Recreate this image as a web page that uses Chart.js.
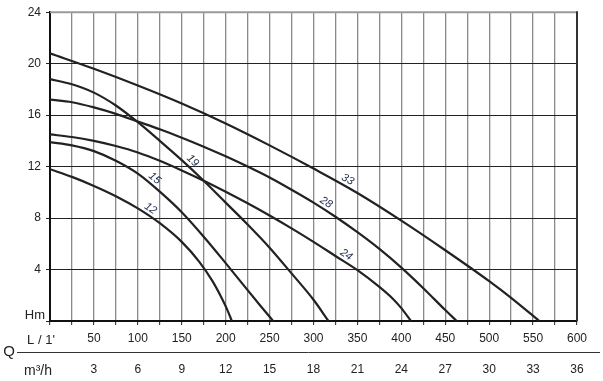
<!DOCTYPE html>
<html><head><meta charset="utf-8">
<script src="https://cdn.jsdelivr.net/npm/chart.js@4/dist/chart.umd.min.js"></script>
<style>html,body{margin:0;padding:0;background:#fff}#wrap{width:603px;height:381px;position:relative}</style>
</head><body><div id="wrap"><canvas id="c" width="603" height="381"></canvas></div>
<script>
// Flow Q in L/min, head H in m
const q12 = [0,25,50,75,100,125,150,170,185,195,201,205,207];
const h12 = [11.8,11.2,10.5,9.7,8.75,7.6,6.15,4.6,3.1,1.85,1.0,0.35,0];
const q15 = [0,25,50,75,100,125,150,175,200,225,240,254];
const h15 = [13.9,13.65,13.2,12.45,11.45,10.05,8.45,6.55,4.5,2.4,1.15,0];
const q19 = [0,25,50,75,100,125,150,175,200,225,250,275,300,317];
const h19 = [18.8,18.4,17.75,16.75,15.45,14.0,12.5,10.9,9.2,7.5,5.7,3.7,1.65,0];
const q24 = [0,25,50,75,100,125,150,175,200,225,250,275,300,325,350,375,390,400,411];
const h24 = [14.5,14.3,14.0,13.6,13.1,12.45,11.7,10.9,10.05,9.15,8.2,7.2,6.15,5.05,3.95,2.65,1.75,1.0,0];
const q28 = [0,25,50,75,100,125,150,175,200,225,250,275,300,325,350,375,400,425,450,463];
const h28 = [17.2,17.0,16.6,16.1,15.5,14.9,14.25,13.55,12.8,12.0,11.15,10.2,9.2,8.1,6.9,5.6,4.15,2.55,0.85,0];
const q33 = [0,50,100,150,200,250,300,350,400,450,500,525,557];
const h33 = [20.8,19.6,18.3,16.9,15.35,13.65,11.85,9.95,7.8,5.5,3.1,1.8,0];

const curveNames = ['12','15','19','24','28','33'];
const curveQ = [q12,q15,q19,q24,q28,q33];
const curveH = [h12,h15,h19,h24,h28,h33];
const labelQ = [110,114,157,333,310,335];

const flowTicksL = [50,100,150,200,250,300,350,400,450,500,550,600];
const flowTicksM3 = [3,6,9,12,15,18,21,24,27,30,33,36];
const headTicks = [4,8,12,16,20,24];

const FONT = 'Liberation Sans, Arial, sans-serif';
const INK = '#222';

const datasets = curveNames.map((n,i)=>({
  label: n,
  data: curveQ[i].map((q,j)=>({x:q, y:curveH[i][j]})),
  borderColor: INK, borderWidth: 2.2, pointRadius: 0,
  cubicInterpolationMode: 'monotone', fill: false
}));

function interp(qs, hs, q){
  for(let i=0;i<qs.length-1;i++){
    if(q>=qs[i] && q<=qs[i+1]){ const t=(q-qs[i])/(qs[i+1]-qs[i]); return hs[i]+t*(hs[i+1]-hs[i]); }
  }
  return hs[hs.length-1];
}

const extras = {
  id: 'extras',
  afterDatasetsDraw(chart){
    const ctx = chart.ctx, a = chart.chartArea, xs = chart.scales.x, ys = chart.scales.y;
    ctx.save();
    // top & right frame
    ctx.strokeStyle = '#9a9a9a'; ctx.lineWidth = 2;
    ctx.beginPath(); ctx.moveTo(a.left, a.top); ctx.lineTo(a.right, a.top); ctx.stroke();
    ctx.strokeStyle = '#333'; ctx.lineWidth = 2;
    ctx.beginPath(); ctx.moveTo(a.right, a.top-1); ctx.lineTo(a.right, a.bottom); ctx.stroke();
    // curve labels
    ctx.fillStyle = '#1c2a4c';
    ctx.font = 'italic 11px ' + FONT;
    ctx.textAlign = 'center'; ctx.textBaseline = 'middle';
    curveNames.forEach((n,i)=>{
      const q = labelQ[i];
      const px = xs.getPixelForValue(q), py = ys.getPixelForValue(interp(curveQ[i],curveH[i],q));
      const px1 = xs.getPixelForValue(q-6), py1 = ys.getPixelForValue(interp(curveQ[i],curveH[i],q-6));
      const px2 = xs.getPixelForValue(q+6), py2 = ys.getPixelForValue(interp(curveQ[i],curveH[i],q+6));
      const ang = Math.atan2(py2-py1, px2-px1);
      ctx.save(); ctx.translate(px, py); ctx.rotate(ang);
      ctx.fillText(n, 0, -7);
      ctx.restore();
    });
    // axis captions
    ctx.fillStyle = INK;
    ctx.font = '13px ' + FONT;
    ctx.textAlign = 'right'; ctx.textBaseline = 'middle';
    ctx.fillText('Hm', 45, 315);
    ctx.textAlign = 'center';
    ctx.fillText("L / 1'", 41, 340);
    ctx.font = '14px ' + FONT;
    ctx.fillText('m\u00B3/h', 38, 371);
    ctx.font = '15px ' + FONT;
    ctx.fillText('Q', 9, 352);
    ctx.strokeStyle = '#333'; ctx.lineWidth = 1;
    ctx.beginPath(); ctx.moveTo(17, 352.5); ctx.lineTo(600, 352.5); ctx.stroke();
    ctx.restore();
  }
};

new Chart(document.getElementById('c'), {
  type: 'line',
  data: { datasets },
  options: {
    responsive: false, animation: false, devicePixelRatio: 1,
    layout: { padding: { left: 0, right: 26, top: 11, bottom: 0 } },
    plugins: { legend: { display: false }, tooltip: { enabled: false } },
    scales: {
      x: {
        type: 'linear', position: 'bottom', min: 0, max: 600, weight: 1,
        afterBuildTicks(s){ const t=[]; for(let v=0; v<=600; v+=25) t.push({value:v}); s.ticks=t; },
        ticks: { autoSkip: false, maxRotation: 0, padding: 6, color: INK, font: { family: FONT, size: 12 },
          callback: v => flowTicksL.includes(v) ? String(v) : '' },
        grid: { color: '#8a8a8a', lineWidth: 1.3, tickLength: 4, tickColor: INK, tickWidth: 1 },
        border: { display: true, color: '#111', width: 2 },
        afterFit(s){ s.height = 31; }
      },
      x2: {
        type: 'linear', position: 'bottom', min: 0, max: 36, weight: 2,
        afterBuildTicks(s){ s.ticks = flowTicksM3.map(v=>({value:v})); },
        ticks: { autoSkip: false, maxRotation: 0, padding: 10, color: INK, font: { family: FONT, size: 12 } },
        grid: { display: false, drawTicks: false },
        border: { display: false },
        afterFit(s){ s.height = 29; }
      },
      y: {
        min: 0, max: 24,
        afterBuildTicks(s){ s.ticks = [0].concat(headTicks).map(v=>({value:v})); },
        ticks: { padding: 5, color: INK, font: { family: FONT, size: 12 },
          callback: v => headTicks.includes(v) ? String(v) : '' },
        grid: { color: '#222', lineWidth: 1, tickLength: 4 },
        border: { color: '#111', width: 2 },
        afterFit(s){ s.width = 50; }
      }
    }
  },
  plugins: [extras]
});
</script></body></html>
